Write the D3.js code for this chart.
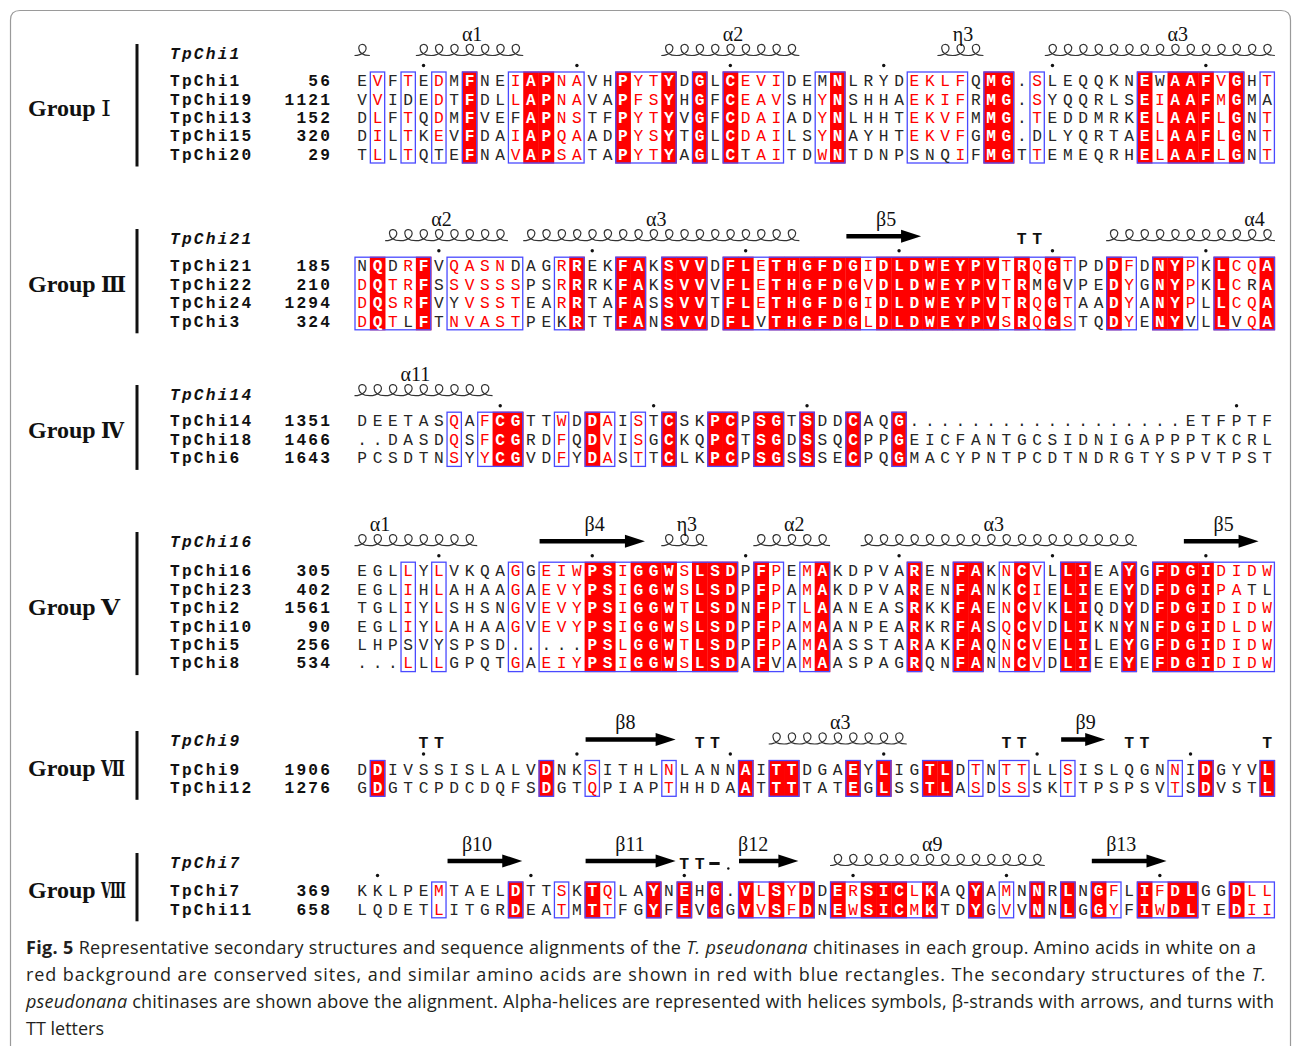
<!DOCTYPE html>
<html><head><meta charset="utf-8">
<script src="https://cdn.jsdelivr.net/npm/d3@7"></script>
<style>body{margin:0;background:#fff}svg{display:block}</style>
</head><body>
<svg id="chart" width="1292" height="1046"></svg>
<script>
// ---------------- DATA ----------------
const groupLabels = ["Ⅰ","Ⅲ","Ⅳ","Ⅴ","Ⅶ","Ⅷ"];
const refNames = ["TpChi1","TpChi21","TpChi14","TpChi16","TpChi9","TpChi7"];
const seqNames = [
  ["TpChi1","TpChi19","TpChi13","TpChi15","TpChi20"],
  ["TpChi21","TpChi22","TpChi24","TpChi3"],
  ["TpChi14","TpChi18","TpChi6"],
  ["TpChi16","TpChi23","TpChi2","TpChi10","TpChi5","TpChi8"],
  ["TpChi9","TpChi12"],
  ["TpChi7","TpChi11"]
];
const seqStarts = [[56,1121,152,320,29],[185,210,1294,324],[1351,1466,1643],[305,402,1561,90,256,534],[1906,1276],[369,658]];
const sequences = [
  ["EVFTEDMFNE IAPNAVHPYT YDGLCEVIDE MNLRYDEKLF QMG.SLEQQK NEWAAFVGHT",
   "VVIDEDTFDL LAPNAVAPFS YHGFCEAVSH YNSHHAEKIF RMG.SYQQRL SEIAAFMGMA",
   "DLFTQDMFVE FAPNSTFPYT YVGFCDAIAD YNLHHTEKVF MMG.TEDDMR KELAAFLGNT",
   "DILTKEVFDA IAPQAADPYS YTGLCDAILS YNAYHTEKVF GMG.DLYQRT AELAAFLGNT",
   "TLLTQTEFNA VAPSATAPYT YAGLCTAITD WNTDNPSNQI FMGTTEMEQR HELAAFLGNT"],
  ["NQDRFVQASN DAGRREKFAK SVVDFLETHG FDGIDLDWEY PVTRQGTPDD FDNYPKLCQA",
   "DQTRFSSVSS SPSRRRKFAK SVVVFLETHG FDGVDLDWEY PVTRMGVPED YGNYPKLCRA",
   "DQSRFVYVSS TEARRTAFAS SVVTFLETHG FDGIDLDWEY PVTRQGTAAD YANYPLLCQA",
   "DQTLFTNVAS TPEKRTTFAN SVVDFLVTHG FDGLDLDWEY PVSRQGSTQD YENYVLLVQA"],
  ["DEETASQAFC GTTWDDAIST CSKPCPSGTS DDCAQG.... .......... ....ETFPTF",
   "..DASDQSFC GRDFQDVISG CKQPCTSGDS SQCPPGEICF ANTGCSIDNI GAPPPTKCRL",
   "PCSDTNSYYC GVDFYDASTT CLKPCPSGSS SECPQGMACY PNTPCDTNDR GTYSPVTPST"],
  ["EGLLYLVKQA GGEIWPSIGG WSLSDPFPEM AKDPVARENF AKNCVLLIEA YGFDGIDIDW",
   "EGLIHLAHAA GAEVYPSIGG WSLSDPFPAM AKDPVARENF ANKCIELIEE YDFDGIPATL",
   "TGLIYLSHSN GVEVYPSIGG WTLSDNFPTL AANEASRKKF AENCVKLIQD YDFDGIDIDW",
   "EGLIYLAHAA GVEVYPSIGG WSLSDPFPAM AANPEARKRF ASQCVDLIKN YNFDGIDLDW",
   "LHPSVYSPSD .....PSLGG WTLSDPFPAM AASSTARAKF AQNCVELILE YGFDGIDIDW",
   "...LLLGPQT GAEIYPSIGG WSLSDAFVAM AASPAGRQNF ANNCVDLIEE YEFDGIDIDW"],
  ["DDIVSSISLA LVDNKSITHL NLANNAITTD GAEYLIGTLD TNTTLLSISL QGNNIDGYVL",
   "GDGTCPDCDQ FSDGTQPIAP THHDAATTTT ATEGLSSTLA SDSSSKTTPS PSVTSDVSTL"],
  ["KKLPEMTAEL DTTSKTQLAY NEHG.VLSYD DERSICLKAQ YAMNNRLNGF LIFDLGGDLL",
   "LQDETLITGR DEATMTTFGY FEVGGVVSFD NEWSICMKTD YGVVNNLGGY FIWDLTEDII"]
];
// R = conserved (white on red), r = similar (red letter), . = plain
const styleMasks = [
  [".r.r.r.R.. rRRrr..Rrr R.R.Rrrr.. .R....rrrr .RR.r..... .R.RRRrR.r",
   ".r...r.R.. rRRrr..Rrr R.R.Rrrr.. rR....rrrr .RR.r..... .RrRRRrR..",
   ".r.r.r.R.. .RRrr..Rrr R.R.Rrrr.. rR....rrrr .RR.r..... .RrRRRrR.r",
   ".r.r.r.R.. rRRrr..Rrr R.R.Rrrr.. rR....rrrr .RR....... .RrRRRrR.r",
   ".r.r...R.. rRRrr..Rrr R.R.R.rr.. rR.......r .RR.r..... .RrRRRrR.r"],
  [".R.rR.rrrr ...rR..RR. RRR.RRrRRR RRRrRRRRRR RRrRrRr..R r.RRr.RrrR",
   "rRrrR.rrrr r..rR..RR. RRR.RRrRRR RRRrRRRRRR RRrR.R...R r.RRr.Rr.R",
   "rRrrR..rrr r..rR..RR. RRR.RRrRRR RRRrRRRRRR RRrRrRr..R r.RRr.RrrR",
   "rRr.R.rrrr r...R..RR. RRR.RR.RRR RRRrRRRRRR RRrRrRr..R r.RR..R.rR"],
  ["......r.rR R..r.Rr.r. R..RR.RR.R ..R..R.... .......... ..........",
   "......r.rR R..r.Rr.r. R..RR.RR.R ..R..R.... .......... ..........",
   "......r.rR R..r.Rr.r. R..RR.RR.R ..R..R.... .......... .........."],
  ["...r.r.... r.rrrRRrRR RrRRR.Rr.r R.....R..R R.rRr.RR.. R.RRRRrrrr",
   "...r.r.... r.rrrRRrRR RrRRR.Rr.r R.....R..R R..Rr.RR.. R.RRRRrr..",
   "...r.r.... r.rrrRRrRR RrRRR.Rr.r R.....R..R R.rRr.RR.. R.RRRRrrrr",
   "...r.r.... r.rrrRRrRR RrRRR.Rr.r R.....R..R R.rRr.RR.. R.RRRRrrrr",
   ".......... .....RRrRR RrRRR.Rr.r R.....R..R R.rRr.RR.. R.RRRRrrrr",
   "...r.r.... r.rrrRRrRR RrRRR.R..r R.....R..R R.rRr.RR.. R.RRRRrrrr"],
  [".R........ ..R..r.... r....R.RR. ..R.R..RR. r.rr..r... ...r.R...R",
   ".R........ ..R..r.... r....R.RR. ..R.R..RR. r.rr..r... ...r.R...R"],
  [".....r.... R..r.Rr..R .R.R.RrRrR .RrRRRrR.. R.r.R.R.Rr .RrRR..Rrr",
   ".....r.... R..r.Rr..R .R.R.RrRrR .RrRRRrR.. R.r.R.R.Rr .RrRR..Rrr"]
];
// every-10th-residue markers (alignment column)
const dotColumns = [[5,15,25,35,46,56],[6,16,26,36,46,56],[10,20,30,58],[6,16,26,36,46,56],[5,15,25,35,45,55],[2,12,22,33,43,53]];
// secondary structure elements: kind, first column, last column, label, label column
const secondary = [
  [{kind:"helix",from:1,to:1},{kind:"helix",from:5,to:11,label:"α1",at:8},{kind:"helix",from:21,to:29,label:"α2",at:25},
   {kind:"helix",from:39,to:41,label:"η3",at:40},{kind:"helix",from:46,to:60,label:"α3",at:54}],
  [{kind:"helix",from:3,to:10,label:"α2",at:6},{kind:"helix",from:12,to:29,label:"α3",at:20},{kind:"strand",from:33,to:37,label:"β5",at:35},
   {kind:"turn",from:44,to:45},{kind:"helix",from:50,to:60,label:"α4",at:59}],
  [{kind:"helix",from:1,to:9,label:"α11",at:4}],
  [{kind:"helix",from:1,to:8,label:"α1",at:2},{kind:"strand",from:13,to:19,label:"β4",at:16},{kind:"helix",from:21,to:23,label:"η3",at:22},
   {kind:"helix",from:27,to:31,label:"α2",at:29},{kind:"helix",from:34,to:51,label:"α3",at:42},{kind:"strand",from:55,to:59,label:"β5",at:57}],
  [{kind:"turn",from:5,to:6},{kind:"strand",from:16,to:21,label:"β8",at:18},{kind:"turn",from:23,to:24},
   {kind:"helix",from:28,to:36,label:"α3",at:32},{kind:"turn",from:43,to:44},{kind:"strand",from:47,to:49,label:"β9",at:48},
   {kind:"turn",from:51,to:52},{kind:"turn",from:60,to:60}],
  [{kind:"strand",from:7,to:11,label:"β10",at:8},{kind:"strand",from:16,to:21,label:"β11",at:18},{kind:"turn",from:22,to:23},
   {kind:"bend",from:24,to:24},{kind:"gap",from:25,to:25},{kind:"strand",from:26,to:29,label:"β12",at:26},
   {kind:"helix",from:32,to:45,label:"α9",at:38},{kind:"strand",from:49,to:53,label:"β13",at:50}]
];
const captionLines = [
  [["b","Fig. 5"],["n"," Representative secondary structures and sequence alignments of the "],["i","T. pseudonana"],["n"," chitinases in each group. Amino acids in white on a"]],
  [["n","red background are conserved sites, and similar amino acids are shown in red with blue rectangles. The secondary structures of the "],["i","T."]],
  [["i","pseudonana"],["n"," chitinases are shown above the alignment. Alpha-helices are represented with helices symbols, β-strands with arrows, and turns with"]],
  [["n","TT letters"]]
];

// ---------------- LAYOUT ----------------
const svg = d3.select("#chart");
const colW = 15.34, seqLeft = 354.5;
const x = d3.scaleBand().domain(d3.range(1, 61)).range([seqLeft, seqLeft + 60 * colW]);
const rowTops = [71.5, 256.7, 411.7, 561.7, 760, 881.5];
const headerYs = [53, 238, 394, 541, 740, 862];
const numeralW = [10, 25, 23, 19, 24, 25];
const rowH = 18.4;
const RED = "#ff0000", BLUE = "#4a4aff", INK = "#262626";
const MONO = "'Liberation Mono','Courier New',monospace";
const SERIF = "'Liberation Serif','Times New Roman',serif";
const FS = 16.2, LS = 2.2;

// frame
svg.append("path")
  .attr("d", "M10.5,1046 L10.5,20 Q10.5,10.5 20,10.5 L1281,10.5 Q1290.5,10.5 1290.5,20 L1290.5,1046")
  .attr("fill", "none").attr("stroke", "#9a9a9a").attr("stroke-width", 1.2);

function helixPath(c0, c1, y) {
  const h = 11;
  let p = "";
  for (let c = c0; c <= c1; c++) {
    const a = x(c), w = colW;
    if (c === c0) p += `M${a},${y}`;
    p += `C${a+0.55*w},${y} ${a+0.82*w},${y-0.45*h} ${a+0.74*w},${y-0.8*h}`;
    p += `C${a+0.66*w},${y-1.1*h} ${a+0.26*w},${y-1.08*h} ${a+0.28*w},${y-0.65*h}`;
    p += `C${a+0.3*w},${y-0.2*h} ${a+0.5*w},${y} ${a+w},${y}`;
  }
  return p;
}

sequences.forEach((block, b) => {
  const seqs = block.map(s => s.replace(/ /g, ""));
  const masks = styleMasks[b].map(s => s.replace(/ /g, ""));
  const n = seqs.length;
  const top = rowTops[b];
  const y = d3.scaleBand().domain(d3.range(n)).range([top, top + n * rowH]);
  const g = svg.append("g").attr("class", "block");
  const bottom = top + n * rowH;

  // group label + bar
  const mid = (headerYs[b] + bottom) / 2;
  g.append("text").attr("x", 28).attr("y", mid + 8).text("Group")
    .attr("font-family", SERIF).attr("font-size", 24).attr("font-weight", "bold").attr("fill", "#111");
  g.append("text").attr("x", 101).attr("y", mid + 8).text(groupLabels[b])
    .attr("textLength", numeralW[b]).attr("lengthAdjust", "spacingAndGlyphs")
    .attr("font-family", "'DejaVu Serif','Liberation Serif',serif").attr("font-size", 23)
    .attr("font-weight", b === 0 ? "normal" : "bold").attr("fill", "#111");
  g.append("line").attr("x1", 137).attr("x2", 137).attr("y1", headerYs[b] - 9).attr("y2", bottom + 3)
    .attr("stroke", "#111").attr("stroke-width", 3);

  // header (reference sequence name)
  g.append("text").attr("x", 170).attr("y", headerYs[b] + 5.5).text(refNames[b])
    .attr("font-family", MONO).attr("font-size", FS).attr("letter-spacing", LS)
    .attr("font-weight", "bold").attr("font-style", "italic").attr("fill", "#111");

  // names & numbers
  seqNames[b].forEach((nm, i) => {
    const cy = y(i) + rowH / 2;
    g.append("text").attr("x", 170).attr("y", cy + 5.4).text(nm)
      .attr("font-family", MONO).attr("font-size", FS).attr("letter-spacing", LS).attr("font-weight", "bold").attr("fill", "#111");
    g.append("text").attr("x", 330 + LS).attr("y", cy + 5.4).attr("text-anchor", "end").text(seqStarts[b][i])
      .attr("font-family", MONO).attr("font-size", FS).attr("letter-spacing", LS).attr("font-weight", "bold").attr("fill", "#111");
  });

  // column info
  const cols = d3.range(1, 61).map(c => {
    const ms = masks.map(m => m[c - 1]);
    return { c, cons: ms.includes("R"), hi: ms.some(v => v !== ".") };
  });
  // conserved fills
  g.selectAll("rect.cons").data(cols.filter(d => d.cons)).join("rect").attr("class", "cons")
    .attr("x", d => x(d.c)).attr("y", top).attr("width", colW + 0.3).attr("height", n * rowH).attr("fill", RED);
  // boxes = runs of highlighted columns
  const runs = [];
  cols.forEach(d => {
    if (!d.hi) return;
    const last = runs[runs.length - 1];
    if (last && last[1] === d.c - 1) last[1] = d.c; else runs.push([d.c, d.c]);
  });
  g.selectAll("rect.box").data(runs).join("rect").attr("class", "box")
    .attr("x", d => x(d[0]) + 0.5).attr("y", top + 0.5)
    .attr("width", d => (d[1] - d[0] + 1) * colW - 1).attr("height", n * rowH - 1)
    .attr("fill", "none").attr("stroke", BLUE).attr("stroke-width", 1.3);

  // letters
  const letters = [];
  seqs.forEach((s, i) => s.split("").forEach((ch, k) => letters.push({ ch, i, c: k + 1, st: masks[i][k] })));
  g.selectAll("text.res").data(letters).join("text").attr("class", "res")
    .attr("x", d => x(d.c) + colW / 2).attr("y", d => y(d.i) + rowH / 2 + 5.4)
    .attr("text-anchor", "middle").attr("font-family", MONO).attr("font-size", FS)
    .attr("font-weight", d => d.st === "R" ? "bold" : "normal")
    .attr("fill", d => d.st === "R" ? "#fff" : d.st === "r" ? RED : INK)
    .text(d => d.ch);

  // dots
  g.selectAll("circle.dot").data(dotColumns[b]).join("circle").attr("class", "dot")
    .attr("cx", c => x(c) + colW / 2).attr("cy", top - 6).attr("r", 1.7).attr("fill", "#111");

  // secondary structure
  const ssBase = top - 16, ssArrow = top - 20.5, ssTurn = top - 18, ssLabel = top - 37;
  secondary[b].forEach(e => {
    if (e.kind === "helix") {
      g.append("path").attr("d", helixPath(e.from, e.to, ssBase)).attr("fill", "none").attr("stroke", "#333").attr("stroke-width", 1.2);
    } else if (e.kind === "strand") {
      const x0 = x(e.from) + 1, x1 = x(e.to) + colW - 1, hl = 20;
      g.append("line").attr("x1", x0).attr("x2", x1 - hl + 2).attr("y1", ssArrow).attr("y2", ssArrow)
        .attr("stroke", "#000").attr("stroke-width", 4.5);
      g.append("path").attr("d", `M${x1},${ssArrow} L${x1 - hl},${ssArrow - 6.5} L${x1 - hl},${ssArrow + 6.5} Z`).attr("fill", "#000");
    } else if (e.kind === "turn") {
      d3.range(e.from, e.to + 1).forEach(c => {
        g.append("text").attr("x", x(c) + colW / 2).attr("y", ssTurn + 5.5).attr("text-anchor", "middle")
          .attr("font-family", MONO).attr("font-size", 16.5).attr("font-weight", "bold").attr("fill", "#111").text("T");
      });
    } else if (e.kind === "bend") {
      g.append("line").attr("x1", x(e.from) + 2).attr("x2", x(e.from) + colW - 3).attr("y1", ssTurn).attr("y2", ssTurn)
        .attr("stroke", "#111").attr("stroke-width", 3);
    } else if (e.kind === "gap") {
      g.append("circle").attr("cx", x(e.from) + colW / 2 - 2).attr("cy", ssTurn + 5).attr("r", 1.2).attr("fill", "#111");
    }
    if (e.label) {
      g.append("text").attr("x", x(e.at)).attr("y", ssLabel + 6).text(e.label)
        .attr("font-family", SERIF).attr("font-size", 20).attr("fill", "#111");
    }
  });
});

// caption
const cap = svg.append("g").attr("font-family", "'Open Sans','Noto Sans',sans-serif").attr("font-size", 18).attr("fill", "#231f20");
const capW = [1230, 1240, 1248, null];
captionLines.forEach((line, i) => {
  const t = cap.append("text").attr("x", 26).attr("y", 954 + i * 27);
  if (capW[i]) t.attr("textLength", capW[i]).attr("lengthAdjust", "spacing");
  line.forEach(([st, txt]) => {
    const sp = t.append("tspan").text(txt);
    if (st === "b") sp.attr("font-weight", "bold");
    if (st === "i") sp.attr("font-style", "italic");
  });
});
</script>
</body></html>
